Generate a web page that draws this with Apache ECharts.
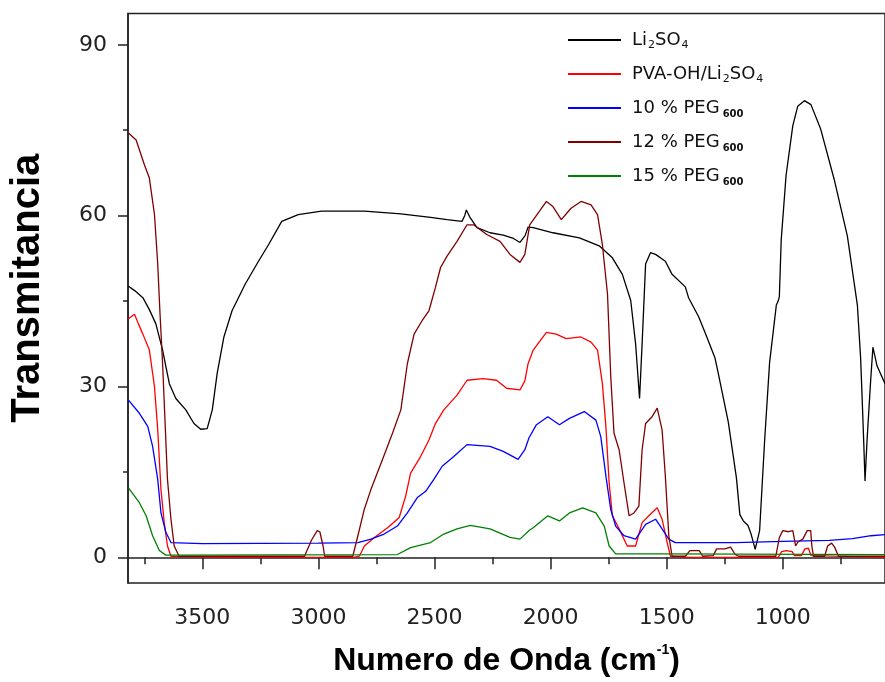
<!DOCTYPE html>
<html><head><meta charset="utf-8">
<script src="https://cdn.jsdelivr.net/npm/echarts@6/dist/echarts.min.js"></script>
<style>html,body{margin:0;padding:0;background:#fff}#c{width:885px;height:682px}</style>
</head><body><div id="c"></div>
<script>
const seriesNames = ['Li2SO4', 'PVA-OH/Li2SO4', '10 % PEG600', '12 % PEG600', '15 % PEG600'];
const seriesColors = ['#000000', '#ff0000', '#0000ff', '#800000', '#008000'];

const li2so4 = [[3818,47.6],[3790,46.8],[3756,45.6],[3728,43.5],[3700,41.0],[3671,36.4],[3642,30.5],[3614,27.9],[3571,25.9],[3536,23.5],[3507,22.5],[3479,22.6],[3457,25.9],[3436,32.3],[3407,38.7],[3372,43.3],[3315,48.0],[3258,52.0],[3215,54.9],[3158,59.0],[3087,60.2],[2987,60.8],[2802,60.8],[2645,60.3],[2517,59.7],[2446,59.3],[2382,59.0],[2370,60.0],[2363,61.0],[2346,59.6],[2317,57.9],[2261,57.0],[2204,56.6],[2160,56.0],[2132,55.3],[2110,56.5],[2097,58.0],[2075,57.9],[1990,57.0],[1876,56.1],[1791,54.7],[1734,52.6],[1691,49.7],[1655,45.1],[1634,37.5],[1617,27.9],[1606,37.5],[1591,51.5],[1570,53.5],[1548,53.2],[1506,52.0],[1477,49.7],[1420,47.5],[1406,45.6],[1363,42.3],[1335,39.5],[1292,35.0],[1278,32.3],[1235,23.8],[1200,14.0],[1185,7.5],[1170,6.4],[1150,5.6],[1136,4.0],[1119,1.4],[1100,4.7],[1078,20.8],[1057,34.2],[1028,44.3],[1020,45.0],[1015,45.8],[1007,55.7],[986,67.1],[957,75.8],[936,79.2],[907,80.2],[879,79.5],[837,75.2],[779,66.4],[722,56.4],[679,44.3],[665,35.0],[658,27.5],[651,19.5],[646,13.4],[637,20.8],[622,30.9],[612,36.9],[594,33.6],[560,30.5]];

const pvaLi2so4 = [[3818,41.9],[3792,42.7],[3775,41.0],[3756,39.2],[3728,36.4],[3706,30.0],[3692,22.4],[3678,11.9],[3664,6.1],[3650,2.0],[3635,0.2],[3400,0],[3000,0],[2850,0],[2824,0.2],[2802,2.0],[2759,3.5],[2702,5.2],[2652,7.0],[2624,10.8],[2603,14.8],[2560,17.7],[2524,20.6],[2496,23.5],[2460,25.9],[2403,28.5],[2360,31.1],[2290,31.4],[2233,31.1],[2190,29.7],[2132,29.4],[2111,31.0],[2097,34.0],[2075,36.4],[2018,39.5],[1976,39.2],[1933,38.4],[1869,38.7],[1826,37.8],[1798,36.4],[1777,30.5],[1762,23.0],[1748,13.1],[1734,7.3],[1705,5.0],[1670,2.0],[1634,2.0],[1606,6.1],[1577,7.3],[1541,8.7],[1520,6.7],[1498,2.6],[1484,0.2],[1400,0],[1300,0],[1020,0],[1005,1.0],[985,1.2],[960,1.0],[950,0.3],[920,0.3],[905,1.5],[890,1.6],[878,0.3],[560,0]];

const peg10 = [[3818,27.6],[3771,25.3],[3735,23.0],[3714,19.5],[3692,13.7],[3678,7.8],[3657,4.4],[3635,2.6],[3500,2.4],[3000,2.5],[2830,2.6],[2774,3.2],[2717,4.1],[2660,5.5],[2617,7.8],[2574,10.5],[2538,11.6],[2503,13.7],[2467,16.0],[2417,17.7],[2360,19.8],[2261,19.5],[2204,18.6],[2140,17.2],[2111,18.9],[2093,21.0],[2061,23.3],[2012,24.7],[1962,23.3],[1919,24.4],[1855,25.6],[1805,24.1],[1784,21.2],[1762,14.3],[1741,8.4],[1720,5.5],[1684,3.8],[1634,3.2],[1591,5.8],[1548,6.7],[1520,5.0],[1491,3.2],[1463,2.6],[1200,2.6],[1000,2.8],[800,3.0],[700,3.3],[620,3.8],[560,4.0]];

const peg12 = [[3818,74.5],[3785,73.3],[3749,68.9],[3728,66.6],[3706,60.2],[3692,51.5],[3682,42.7],[3671,34.0],[3659,22.4],[3650,13.7],[3635,6.7],[3621,2.0],[3600,0.2],[3060,0.2],[3030,3.0],[3005,4.7],[2994,4.5],[2980,2.0],[2973,0.2],[2852,0.2],[2830,3.8],[2802,8.5],[2774,11.9],[2724,17.2],[2681,21.8],[2645,25.9],[2617,34.0],[2588,39.2],[2553,41.6],[2524,43.3],[2496,47.4],[2474,50.9],[2446,52.9],[2403,55.5],[2360,58.4],[2332,58.4],[2275,56.7],[2218,55.5],[2175,53.2],[2132,51.8],[2111,53.2],[2090,58.4],[2018,62.5],[1990,61.6],[1954,59.3],[1912,61.3],[1869,62.5],[1826,61.9],[1798,60.2],[1777,54.9],[1755,46.2],[1741,31.7],[1727,21.8],[1705,18.9],[1684,13.1],[1662,7.3],[1641,7.8],[1620,9.0],[1606,18.9],[1591,23.5],[1563,24.7],[1541,26.2],[1520,22.4],[1506,14.3],[1491,3.8],[1477,0.2],[1420,0.2],[1400,1.2],[1360,1.2],[1345,0.2],[1300,0.3],[1285,1.5],[1250,1.5],[1225,1.8],[1205,0.5],[1190,0.2],[1030,0.2],[1015,3.5],[1000,4.7],[975,4.5],[957,4.7],[945,2.0],[935,2.7],[914,3.2],[895,4.7],[880,4.7],[875,2.0],[868,0.2],[820,0.2],[807,2.0],[790,2.5],[777,1.8],[760,0.2],[560,0.2]];

const peg15 = [[3818,12.2],[3771,9.6],[3742,7.3],[3714,3.8],[3685,1.2],[3657,0.4],[2660,0.5],[2603,1.7],[2517,2.6],[2460,4.1],[2403,5.0],[2346,5.6],[2261,5.0],[2175,3.5],[2132,3.2],[2090,4.8],[2075,5.2],[2012,7.3],[1962,6.4],[1919,7.8],[1862,8.7],[1805,7.8],[1769,5.5],[1748,2.0],[1720,0.6],[1500,0.6],[560,0.5]];

const xMajorTicks = [3500, 3000, 2500, 2000, 1500, 1000];
const xMinorTicks = [3750, 3250, 2750, 2250, 1750, 1250, 750];
const yMajorTicks = [0, 30, 60, 90];
const yMinorTicks = [15, 45, 75];

const allData = [li2so4, pvaLi2so4, peg10, peg12, peg15];

const legendRich = {
  n: {fontFamily: 'DejaVu Sans', fontSize: 18, color: '#111', lineHeight: 22},
  s: {fontFamily: 'DejaVu Sans', fontSize: 11, color: '#111', verticalAlign: 'bottom', lineHeight: 22, padding: [0, 0, 0, 1]},
  b: {fontFamily: 'DejaVu Sans', fontSize: 10, fontWeight: 'bold', color: '#111', verticalAlign: 'bottom', lineHeight: 22, padding: [0, 0, 0, 3]}
};
function legendFmt(name) {
  if (name === 'Li2SO4') return '{n|Li}{s|2}{n|SO}{s|4}';
  if (name === 'PVA-OH/Li2SO4') return '{n|PVA-OH/Li}{s|2}{n|SO}{s|4}';
  const m = name.match(/^(\d+ % PEG)(\d+)$/);
  if (m) return '{n|' + m[1] + '}{b|' + m[2] + '}';
  return name;
}

const axisFont = {fontFamily: 'DejaVu Sans', fontSize: 22, color: '#222', formatter: v => String(v)};
const axLine = {show: true, lineStyle: {color: '#222', width: 1.5}};
const X_MIN = 560, X_MAX = 3820, Y_MIN = -4.5, Y_MAX = 95.5;

const chart = echarts.init(document.getElementById('c'));
chart.setOption({
  animation: false,
  backgroundColor: '#fff',
  grid: {left: 125, right: -3, top: 13.5, bottom: 94.7, show: true, borderColor: '#222', borderWidth: 1.5},
  legend: {
    orient: 'vertical', left: 563, top: 26, itemWidth: 53, itemHeight: 14, itemGap: 14,
    data: seriesNames.map((n, i) => ({name: n, icon: 'path://M0,6 L53,6 L53,8 L0,8 Z', itemStyle: {color: seriesColors[i]}})),
    formatter: legendFmt,
    textStyle: {rich: legendRich, padding: [0, 0, 0, 6]}
  },
  xAxis: [
    {type: 'value', min: X_MIN, max: X_MAX, inverse: true, position: 'bottom',
      axisLine: axLine, splitLine: {show: false},
      axisTick: {show: true, inside: false, length: 12, customValues: xMajorTicks, lineStyle: {color: '#222', width: 1.5}},
      axisLabel: Object.assign({show: true, margin: 24, customValues: xMajorTicks}, axisFont),
      name: '{a|Numero de Onda (cm}{sup|-1}{a|)}', nameLocation: 'middle', nameGap: 60,
      nameTextStyle: {rich: {
        a: {fontFamily: 'Liberation Sans', fontSize: 32, fontWeight: 'bold', color: '#000', lineHeight: 36},
        sup: {fontFamily: 'Liberation Sans', fontSize: 14, fontWeight: 'bold', color: '#000', verticalAlign: 'top', lineHeight: 36}
      }}
    },
    {type: 'value', min: X_MIN, max: X_MAX, inverse: true, position: 'bottom', offset: 0,
      axisLine: {show: false}, splitLine: {show: false}, axisLabel: {show: false},
      axisTick: {show: true, inside: false, length: 7, customValues: xMinorTicks, lineStyle: {color: '#222', width: 1.5}}
    }
  ],
  yAxis: [
    {type: 'value', min: Y_MIN, max: Y_MAX, position: 'left',
      axisLine: axLine, splitLine: {show: false},
      axisTick: {show: true, inside: false, length: 10, customValues: yMajorTicks, lineStyle: {color: '#222', width: 1.5}},
      axisLabel: Object.assign({show: true, margin: 21, customValues: yMajorTicks}, axisFont),
      name: 'Transmitancia', nameLocation: 'middle', nameGap: 80,
      nameTextStyle: {fontFamily: 'Liberation Sans', fontSize: 40, fontWeight: 'bold', color: '#000', padding: [0, 0, 0, 20]}
    },
    {type: 'value', min: Y_MIN, max: Y_MAX, position: 'left', offset: 0,
      axisLine: {show: false}, splitLine: {show: false}, axisLabel: {show: false},
      axisTick: {show: true, inside: false, length: 5, customValues: yMinorTicks, lineStyle: {color: '#222', width: 1.5}}
    }
  ],
  series: seriesNames.map((n, i) => ({
    name: n, type: 'line', xAxisIndex: 0, yAxisIndex: 0,
    data: allData[i], symbol: 'none', smooth: false,
    lineStyle: {color: seriesColors[i], width: 1.3},
    itemStyle: {color: seriesColors[i]}
  }))
});
</script>
</body></html>
